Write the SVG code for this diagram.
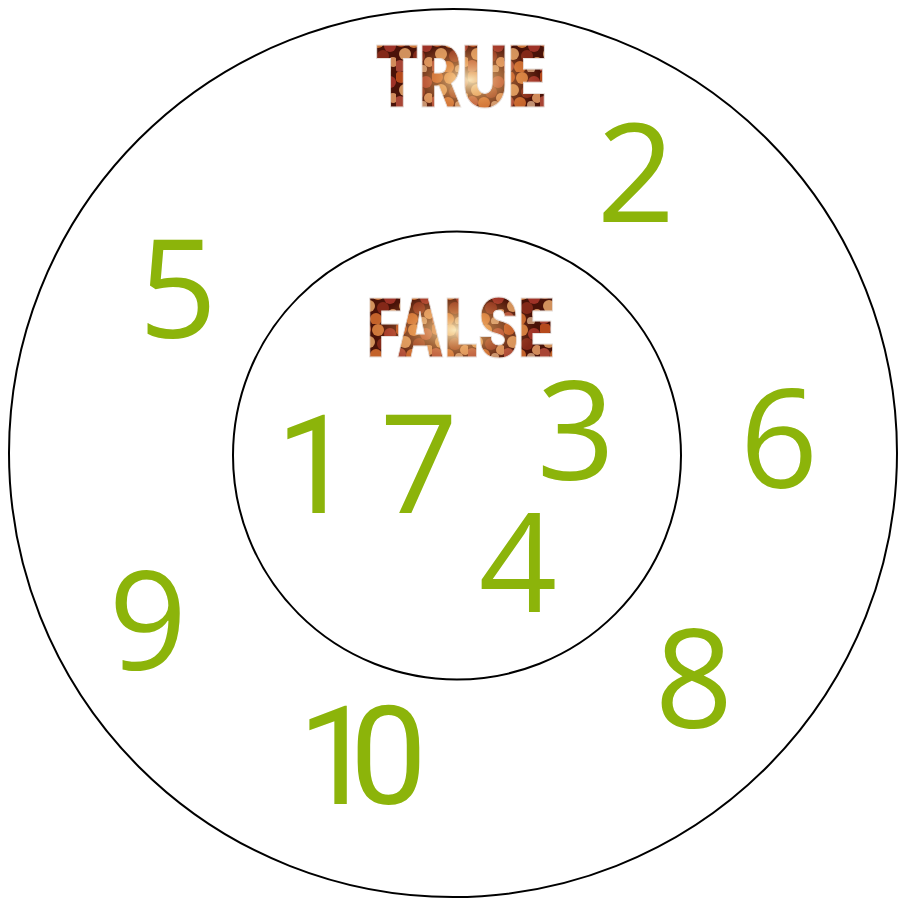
<svg xmlns="http://www.w3.org/2000/svg" width="902" height="901" viewBox="0 0 902 901">
  <style>
    .ring { fill: none; stroke: #000; stroke-width: 2; }
    .num { font-family: "Open Sans", "Liberation Sans", sans-serif; font-size: 137px; fill: #8cb40a; text-anchor: middle; }
    .one { font-family: Roboto, "Open Sans", sans-serif; text-anchor: start; }
    .lbl { font-family: Inter, "Open Sans", "DejaVu Sans", sans-serif; font-weight: 900; text-anchor: start; stroke: #e8e0dc; stroke-width: 1; }
  </style>
  <defs>
    <pattern id="bokeh" patternUnits="userSpaceOnUse" width="36" height="36">
      <rect width="36" height="36" fill="#4a1208"/>
      <circle cx="5" cy="5" r="6" fill="#c2501e" opacity="0.9"/>
      <circle cx="18" cy="6" r="6" fill="#e58a44" opacity="0.85"/>
      <circle cx="30" cy="10" r="6" fill="#a8352a" opacity="0.9"/>
      <circle cx="9" cy="18" r="6" fill="#f2b070" opacity="0.8"/>
      <circle cx="23" cy="20" r="6" fill="#8a2a1a" opacity="0.9"/>
      <circle cx="33" cy="26" r="5" fill="#e9a06a" opacity="0.85"/>
      <circle cx="4" cy="30" r="6" fill="#b34a3a" opacity="0.9"/>
      <circle cx="16" cy="31" r="6" fill="#d97030" opacity="0.85"/>
      <circle cx="27" cy="33" r="4" fill="#f6c8a0" opacity="0.7"/>
    </pattern>
    <radialGradient id="glow" cx="0.5" cy="0.5" r="0.5">
      <stop offset="0" stop-color="#fff4c8" stop-opacity="0.9"/>
      <stop offset="0.45" stop-color="#ffc070" stop-opacity="0.5"/>
      <stop offset="1" stop-color="#ffa050" stop-opacity="0"/>
    </radialGradient>
    <pattern id="fillTrue" patternUnits="userSpaceOnUse" x="0" y="0" width="902" height="901">
      <rect width="902" height="901" fill="url(#bokeh)"/>
      <ellipse cx="470" cy="80" rx="70" ry="40" fill="url(#glow)"/>
    </pattern>
    <pattern id="fillFalse" patternUnits="userSpaceOnUse" x="0" y="0" width="902" height="901">
      <rect width="902" height="901" fill="url(#bokeh)"/>
      <ellipse cx="455" cy="330" rx="80" ry="40" fill="url(#glow)"/>
    </pattern>
  </defs>

  <g id="outer-circle">
    <circle class="ring" cx="453" cy="453" r="444"/>
  </g>
  <g id="inner-circle">
    <circle class="ring" cx="457" cy="455.5" r="224"/>
  </g>

  <g id="label-true">
    <text class="lbl" x="375" y="107" font-size="85" textLength="172" lengthAdjust="spacingAndGlyphs" fill="url(#fillTrue)">TRUE</text>
  </g>
  <g id="label-false">
    <text class="lbl" x="367" y="357" font-size="81" textLength="188" lengthAdjust="spacingAndGlyphs" fill="url(#fillFalse)">FALSE</text>
  </g>

  <g id="n2"><text class="num" x="636" y="222">2</text></g>
  <g id="n5"><text class="num" x="178" y="338">5</text></g>
  <g id="n1"><text class="num one" x="276" y="513">1</text></g>
  <g id="n7"><text class="num" x="419" y="513">7</text></g>
  <g id="n3"><text class="num" x="576" y="480">3</text></g>
  <g id="n4"><text class="num" x="518" y="612">4</text></g>
  <g id="n6"><text class="num" x="779" y="488">6</text></g>
  <g id="n9"><text class="num" x="148" y="670">9</text></g>
  <g id="n10"><text class="num one" x="298" y="804" letter-spacing="-25">10</text></g>
  <g id="n8"><text class="num" x="694" y="728">8</text></g>
</svg>
